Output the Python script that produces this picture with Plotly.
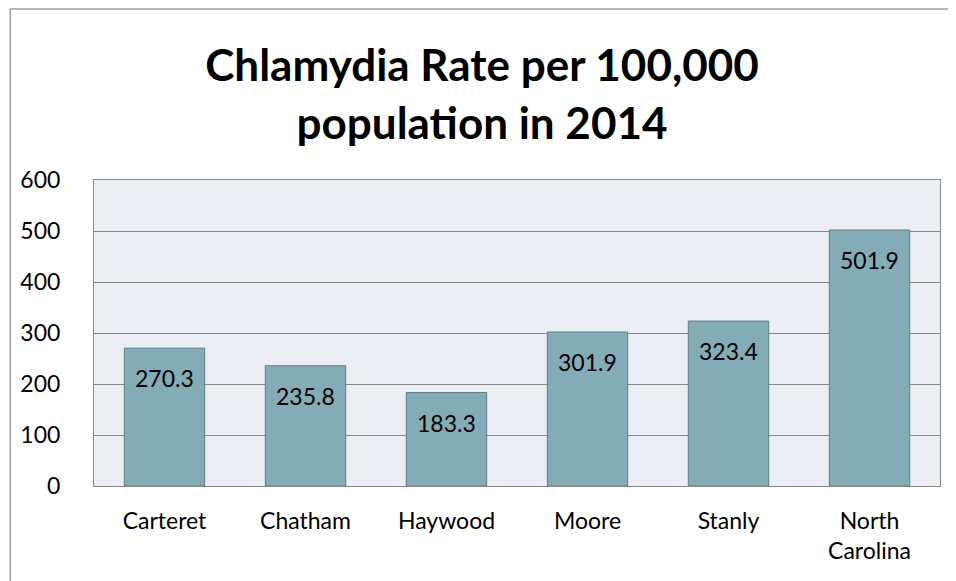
import plotly.graph_objects as go

# chart data
counties = ['Carteret', 'Chatham', 'Haywood', 'Moore', 'Stanly', 'North<br>Carolina']
rates = [270.3, 235.8, 183.3, 301.9, 323.4, 501.9]
y_ticks = [0, 100, 200, 300, 400, 500, 600]

font_family = 'Lato, "Open Sans", sans-serif'

fig = go.Figure()

fig.add_trace(go.Bar(
    x=counties, y=rates,
    marker=dict(color='#84acb6', line=dict(color='#5f7f87', width=1)),
))

# value labels sitting just below each bar top
for c, v in zip(counties, rates):
    fig.add_annotation(x=c, y=v, text=f'{v:.1f}', showarrow=False,
                       yanchor='middle', yshift=-30,
                       font=dict(size=23, color='black', family=font_family))

fig.update_layout(
    width=948, height=573,
    paper_bgcolor='white', plot_bgcolor='#ebeef2',
    margin=dict(l=84, r=16, t=172, b=95),
    bargap=0.43,
    showlegend=False,
    font=dict(family=font_family, color='black'),
    title=dict(text='<b>Chlamydia Rate per 100,000<br>population in 2014</b>',
               x=0.5, xanchor='center', y=0.872, yanchor='middle',
               font=dict(size=44, family=font_family, color='black')),
    shapes=[dict(type='rect', xref='paper', yref='paper',
                 x0=-0.099, x1=1.2, y0=-0.6, y1=1.559,
                 line=dict(color='#a0a0a0', width=1.5), layer='below')],
)

fig.update_xaxes(showline=True, linecolor='#888888', mirror=True,
                 ticks='', tickfont=dict(size=23), ticklabelstandoff=14)
fig.update_yaxes(range=[0, 600], tickvals=y_ticks, showgrid=True,
                 gridcolor='#888888', gridwidth=1,
                 showline=True, linecolor='#888888', mirror=True,
                 ticks='', tickfont=dict(size=23), ticklabelstandoff=28,
                 zeroline=False)

fig.write_html('out.html')
